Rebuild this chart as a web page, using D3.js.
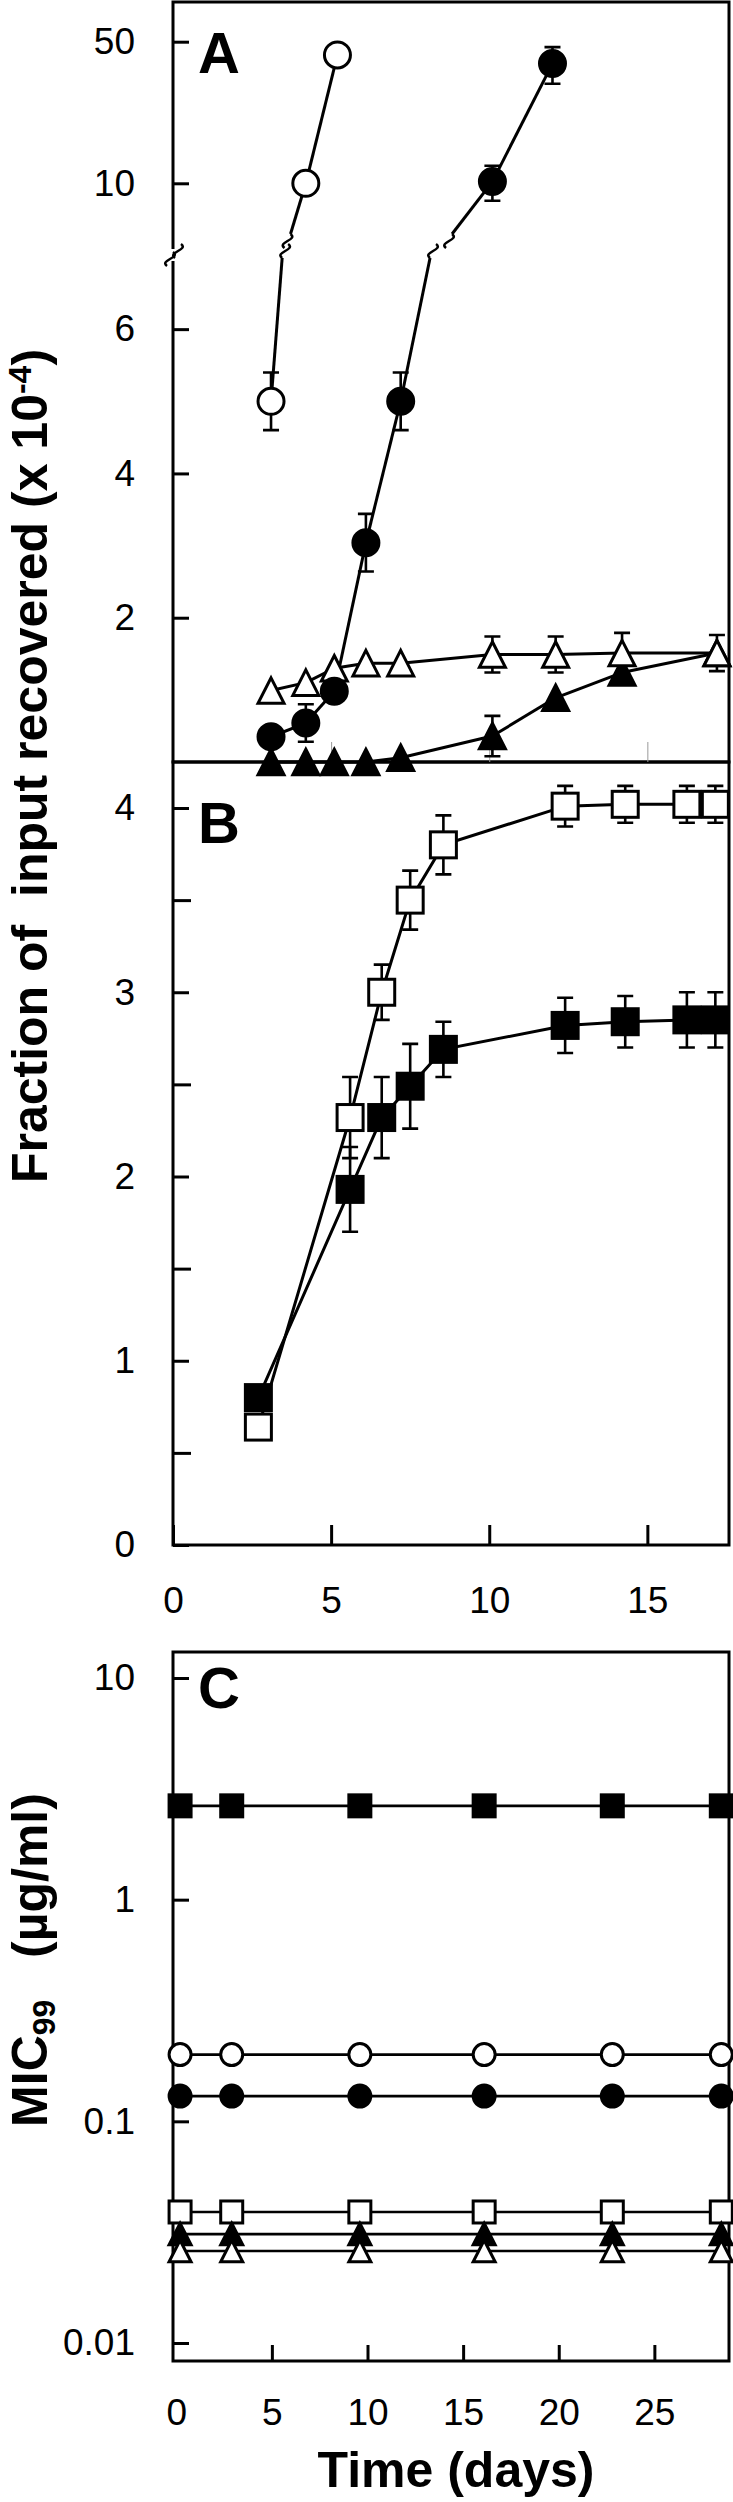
<!DOCTYPE html>
<html>
<head>
<meta charset="utf-8">
<script src="https://cdn.jsdelivr.net/npm/d3@7"></script>
<style>
  body { margin: 0; background: #fff; }
  text { font-family: "Liberation Sans", Arial, sans-serif; fill: #000; }
</style>
</head>
<body>
<div class="chart"></div>
<script>
// ---- data ----
// panel A (fraction recovered x 1e-4, broken axis)
const aOpenCircleDays = [3.1, 4.2, 5.2];
const aOpenCircleVals = [5.0, 10, 43];
const aOpenCircleErr  = [0.4, 0, 0];

const aFilledCircleDays = [3.1, 4.2, 5.1, 6.1, 7.2, 10.1, 12.0];
const aFilledCircleVals = [0.35, 0.54, 0.98, 3.04, 5.0, 10.2, 39];
const aFilledCircleErr  = [0, 0.26, 0, 0.4, 0.4, 2.0, 8];

const aOpenTriDays = [3.1, 4.2, 5.1, 6.1, 7.2, 10.1, 12.1, 14.2, 17.2];
const aOpenTriVals = [0.99, 1.10, 1.30, 1.37, 1.37, 1.49, 1.49, 1.51, 1.51];
const aOpenTriErr  = [0, 0, 0, 0, 0, 0.25, 0.25, 0.28, 0.25];

const aFilledTriDays = [3.1, 4.2, 5.1, 6.1, 7.2, 10.1, 12.1, 14.2, 17.2];
const aFilledTriVals = [0, 0, 0, 0, 0.06, 0.36, 0.89, 1.24, 1.51];
const aFilledTriErr  = [0, 0, 0, 0, 0, 0.28, 0, 0, 0];

// panel B
const bDays = [2.7, 5.6, 6.6, 7.5, 8.55, 12.4, 14.3, 16.25, 17.15];
const bOpenSqVals   = [0.64, 2.32, 3.0, 3.5, 3.8, 4.01, 4.02, 4.02, 4.02];
const bOpenSqErr    = [0, 0.22, 0.15, 0.16, 0.16, 0.11, 0.1, 0.1, 0.1];
const bFilledSqVals = [0.8, 1.93, 2.32, 2.49, 2.69, 2.82, 2.84, 2.85, 2.85];
const bFilledSqErr  = [0, 0.23, 0.22, 0.23, 0.15, 0.15, 0.14, 0.15, 0.15];

// panel C (MIC99, ug/ml)
const cDays = [0.2, 2.9, 9.6, 16.1, 22.8, 28.5];
const cFilledSq   = [2.65, 2.65, 2.65, 2.65, 2.65, 2.65];
const cOpenCircle = [0.2, 0.2, 0.2, 0.2, 0.2, 0.2];
const cFilledCircle = [0.13, 0.13, 0.13, 0.13, 0.13, 0.13];
const cOpenSq     = [0.039, 0.039, 0.039, 0.039, 0.039, 0.039];
const cFilledTri  = [0.031, 0.031, 0.031, 0.031, 0.031, 0.031];
const cOpenTri    = [0.026, 0.026, 0.026, 0.026, 0.026, 0.026];

// tick labels
const aTicksLow = [2, 4, 6];
const aTicksHigh = [10, 50];
const abDayTicks = [0, 5, 10, 15];
const bTicks = [0, 1, 2, 3, 4];
const bMinorTicks = [0.5, 1.5, 2.5, 3.5];
const cDayTicks = [0, 5, 10, 15, 20, 25];
const cTicks = [0.01, 0.1, 1, 10];

// ---- layout ----
const width = 733, height = 2502;
const left = 173, right = 729;
const A = {top: 2, bottom: 762}, B = {top: 762, bottom: 1545}, C = {top: 1652, bottom: 2361};
const breakLo = 258, breakHi = 234;   // where lines are cut at the axis break

const svg = d3.select(".chart").append("svg")
    .attr("width", width)
    .attr("height", height);

svg.append("rect").attr("width", width).attr("height", height).attr("fill", "#fff");

// scales
const xAB = d3.scaleLinear().domain([0, 17.55]).range([left, 728]);
const yALow = d3.scaleLinear().domain([0, 7]).range([A.bottom, 257]);
const yAHigh = d3.scaleLog().domain([10, 50]).range([183.3, 41.7]);
const yB = d3.scaleLinear().domain([0, 4]).range([B.bottom, 808]);
const xC = d3.scaleLinear().domain([-0.17, 28.85]).range([left, 728]);
const yC = d3.scaleLog().domain([0.01, 10]).range([2343, 1678]);

const yA = v => v > 7 ? yAHigh(v) : yALow(v);

// frames
[A, B, C].forEach(p => {
    svg.append("rect")
        .attr("x", left).attr("y", p.top)
        .attr("width", right - left).attr("height", p.bottom - p.top)
        .attr("fill", "none").attr("stroke", "#000").attr("stroke-width", 3);
});

// axis helper
function styleAxis(g, size) {
    g.attr("font-size", null).attr("font-family", null);
    g.select(".domain").remove();
    g.selectAll(".tick line").attr("stroke", "#000").attr("stroke-width", 3);
    g.selectAll(".tick text").attr("font-size", size || 37);
}

// panel A y axes
const fmtInt = d3.format("d");
svg.append("g").attr("transform", `translate(${left},0)`)
    .call(d3.axisLeft(yALow).tickValues(aTicksLow).tickSize(-16).tickPadding(38).tickFormat(fmtInt))
    .call(styleAxis);
svg.append("g").attr("transform", `translate(${left},0)`)
    .call(d3.axisLeft(yAHigh).tickValues(aTicksHigh).tickSize(-16).tickPadding(38).tickFormat(fmtInt))
    .call(styleAxis);
// faint ticks on A bottom
svg.append("g").attr("transform", `translate(0,${A.bottom})`)
    .call(d3.axisBottom(xAB).tickValues(abDayTicks.slice(1)).tickSize(-20).tickFormat(""))
    .call(g => { g.select(".domain").remove(); g.selectAll(".tick line").attr("stroke", "#999").attr("stroke-width", 1); });

// panel B axes
svg.append("g").attr("transform", `translate(${left},0)`)
    .call(d3.axisLeft(yB).tickValues(bTicks).tickSize(-16).tickPadding(38).tickFormat(fmtInt))
    .call(styleAxis);
svg.append("g").attr("transform", `translate(${left},0)`)
    .call(d3.axisLeft(yB).tickValues(bMinorTicks).tickSize(-18).tickFormat(""))
    .call(styleAxis);
svg.append("g").attr("transform", `translate(0,${B.bottom})`)
    .call(d3.axisBottom(xAB).tickValues(abDayTicks).tickSize(-20).tickPadding(42).tickFormat(fmtInt))
    .call(styleAxis);

// panel C axes
svg.append("g").attr("transform", `translate(${left},0)`)
    .call(d3.axisLeft(yC).tickValues(cTicks).tickSize(-16).tickPadding(38).tickFormat(d3.format("~g")))
    .call(styleAxis);
svg.append("g").attr("transform", `translate(0,${C.bottom})`)
    .call(d3.axisBottom(xC).tickValues(cDayTicks).tickSize(-16).tickPadding(38).tickFormat(fmtInt))
    .call(styleAxis)
    .call(g => g.selectAll(".tick").filter(d => d === 0).select("line").remove());

// ---- marks ----
function marker(g, shape, filled, x, y, s) {
    const fill = filled ? "#000" : "#fff";
    let m;
    if (shape === "circle") {
        m = g.append("circle").attr("cx", x).attr("cy", y).attr("r", s / 2);
    } else if (shape === "square") {
        m = g.append("rect").attr("x", x - s / 2).attr("y", y - s / 2).attr("width", s).attr("height", s);
    } else {
        const h = s * 0.98;
        m = g.append("path").attr("d", `M${x},${y - h / 2}L${x + s / 2},${y + h / 2}L${x - s / 2},${y + h / 2}Z`);
    }
    m.attr("fill", fill).attr("stroke", "#000").attr("stroke-width", 3).attr("stroke-linejoin", "miter");
}

function errBar(g, x, y0, y1, cap) {
    const p = d3.path();
    p.moveTo(x, y0); p.lineTo(x, y1);
    p.moveTo(x - cap, y0); p.lineTo(x + cap, y0);
    p.moveTo(x - cap, y1); p.lineTo(x + cap, y1);
    g.append("path").attr("d", p.toString()).attr("stroke", "#000").attr("stroke-width", 2.6).attr("fill", "none");
}

function sMark(g, cx, cy) {
    g.append("path")
        .attr("d", `M${cx - 3},${cy + 7}C${cx - 11},${cy + 1} ${cx + 11},${cy - 1} ${cx + 3},${cy - 7}`)
        .attr("fill", "none").attr("stroke", "#000").attr("stroke-width", 2.5);
}

const lineLayer = svg.append("g");
const errLayer = svg.append("g");
const markLayer = svg.append("g");

// panel A series
const seriesA = [
    {days: aFilledTriDays, vals: aFilledTriVals, err: aFilledTriErr, shape: "tri", filled: true},
    {days: aOpenTriDays, vals: aOpenTriVals, err: aOpenTriErr, shape: "tri", filled: false},
    {days: aOpenCircleDays, vals: aOpenCircleVals, err: aOpenCircleErr, shape: "circle", filled: false},
    {days: aFilledCircleDays, vals: aFilledCircleVals, err: aFilledCircleErr, shape: "circle", filled: true}
];

seriesA.forEach(s => {
    const pts = s.days.map((d, i) => ({x: xAB(d), y: yA(s.vals[i]), v: s.vals[i], e: s.err[i]}));
    for (let i = 1; i < pts.length; i++) {
        const p = pts[i - 1], q = pts[i];
        if ((p.v > 7) === (q.v > 7)) {
            lineLayer.append("line").attr("x1", p.x).attr("y1", p.y).attr("x2", q.x).attr("y2", q.y)
                .attr("stroke", "#000").attr("stroke-width", 3);
        } else {
            // broken segment across the axis break
            const lx = p.x + 0.32 * (q.x - p.x), ux = p.x + 0.56 * (q.x - p.x);
            lineLayer.append("line").attr("x1", p.x).attr("y1", p.y).attr("x2", lx).attr("y2", breakLo)
                .attr("stroke", "#000").attr("stroke-width", 3);
            lineLayer.append("line").attr("x1", ux).attr("y1", breakHi).attr("x2", q.x).attr("y2", q.y)
                .attr("stroke", "#000").attr("stroke-width", 3);
            sMark(lineLayer, lx + 3, breakLo - 7);
            sMark(lineLayer, ux - 3, breakHi + 7);
        }
    }
    pts.forEach(p => {
        if (p.e > 0) errBar(errLayer, p.x, yA(p.v + p.e), yA(p.v - p.e), 8);
        marker(markLayer, s.shape, s.filled, p.x, p.y, 26);
    });
});

// axis break on A's y axis
svg.append("rect").attr("x", left - 3).attr("y", 249).attr("width", 6).attr("height", 12).attr("fill", "#fff");
sMark(svg, left - 3, 259);
sMark(svg, left + 5, 251);

// panel B series
const seriesB = [
    {vals: bOpenSqVals, err: bOpenSqErr, filled: false},
    {vals: bFilledSqVals, err: bFilledSqErr, filled: true}
];
seriesB.forEach(s => {
    const pts = bDays.map((d, i) => ({x: xAB(d), y: yB(s.vals[i]), v: s.vals[i], e: s.err[i]}));
    lineLayer.append("path")
        .attr("d", d3.line().x(p => p.x).y(p => p.y)(pts))
        .attr("fill", "none").attr("stroke", "#000").attr("stroke-width", 3);
    pts.forEach(p => {
        if (p.e > 0) errBar(errLayer, p.x, yB(p.v + p.e), yB(p.v - p.e), 8);
        marker(markLayer, "square", s.filled, p.x, p.y, 26);
    });
});

// panel C series
const seriesC = [
    {vals: cFilledSq, shape: "square", filled: true},
    {vals: cOpenCircle, shape: "circle", filled: false},
    {vals: cFilledCircle, shape: "circle", filled: true},
    {vals: cOpenSq, shape: "square", filled: false},
    {vals: cFilledTri, shape: "tri", filled: true},
    {vals: cOpenTri, shape: "tri", filled: false}
];
seriesC.forEach(s => {
    const pts = cDays.map((d, i) => ({x: xC(d), y: yC(s.vals[i])}));
    lineLayer.append("path")
        .attr("d", d3.line().x(p => p.x).y(p => p.y)(pts))
        .attr("fill", "none").attr("stroke", "#000").attr("stroke-width", 2.6);
    pts.forEach(p => marker(markLayer, s.shape, s.filled, p.x, p.y, 22));
});

// ---- labels ----
const letter = (t, y) => svg.append("text").attr("x", 198).attr("y", y)
    .attr("font-size", 58).attr("font-weight", "bold").text(t);
letter("A", 73);
letter("B", 843);
letter("C", 1708);

const yTitle = svg.append("text")
    .attr("transform", "translate(47,766) rotate(-90)")
    .attr("text-anchor", "middle")
    .attr("font-size", 50).attr("font-weight", "bold");
yTitle.append("tspan").text("Fraction of\u00a0 input recovered (x 10");
yTitle.append("tspan").attr("font-size", 32).attr("dy", -16).text("-4");
yTitle.append("tspan").attr("dy", 16).text(")");

const micTitle = svg.append("text")
    .attr("transform", "translate(47,1960) rotate(-90)")
    .attr("text-anchor", "middle")
    .attr("font-size", 50).attr("font-weight", "bold");
micTitle.append("tspan").text("MIC");
micTitle.append("tspan").attr("font-size", 32).attr("dy", 8).text("99");
micTitle.append("tspan").attr("dy", -8).text("\u00a0\u00a0 (\u00b5g/ml)");

svg.append("text")
    .attr("x", 456).attr("y", 2487)
    .attr("text-anchor", "middle")
    .attr("font-size", 50).attr("font-weight", "bold")
    .text("Time (days)");
</script>
</body>
</html>
